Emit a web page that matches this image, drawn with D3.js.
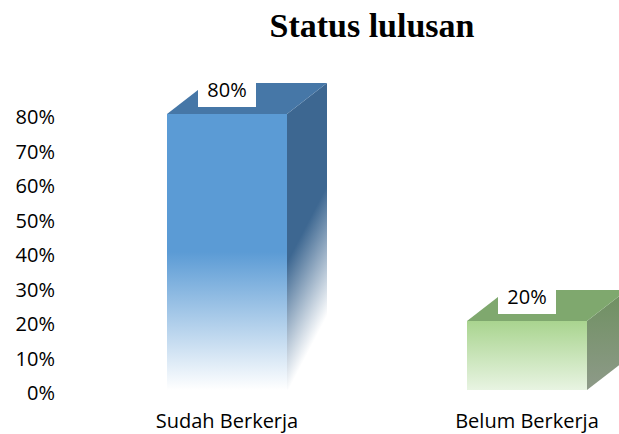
<!DOCTYPE html>
<html>
<head>
<meta charset="utf-8">
<script src="https://cdn.jsdelivr.net/npm/d3@7"></script>
<style>
  html, body { margin: 0; padding: 0; background: #fff; }
  svg { display: block; }
</style>
</head>
<body>
<svg id="chart" width="619" height="434"></svg>
<script>
const title = "Status lulusan";
const categories = ["Sudah Berkerja", "Belum Berkerja"];
const values = [0.80, 0.20];
const tickValues = [0, 0.1, 0.2, 0.3, 0.4, 0.5, 0.6, 0.7, 0.8];

const W = 619, H = 434;
const svg = d3.select("#chart");
const font = "'Open Sans', 'Noto Sans', sans-serif";

const x = d3.scaleBand().domain(categories).range([77, 677]).paddingInner(0.6).paddingOuter(0.3);
const y = d3.scaleLinear().domain([0, 0.8]).range([390, 114]);
const dx = 40, dy = 31;

const defs = svg.append("defs");
function vgrad(id, stops, x1, y1, x2, y2) {
  const g = defs.append("linearGradient").attr("id", id)
    .attr("x1", x1 || 0).attr("y1", y1 || 0).attr("x2", x2 || 0).attr("y2", y2 === undefined ? 1 : y2);
  stops.forEach(s => g.append("stop").attr("offset", s[0]).attr("stop-color", s[1]));
}
const styles = [
  { front: "f0", side: "s0", top: "#4677A7" },
  { front: "f1", side: "s1", top: "#7FA86E" }
];
vgrad("f0", [[0, "#5B9BD5"], [0.5, "#5B9BD5"], [1, "#FFFFFF"]]);
vgrad("s0", [[0, "#3D6791"], [0.55, "#3D6791"], [0.95, "#FFFFFF"]], 0, 0, 0.25, 1);
vgrad("f1", [[0, "#A9D48F"], [1, "#E8F4E2"]]);
vgrad("s1", [[0, "#6E9060"], [1, "#8E9A89"]]);

// title
svg.append("text").attr("x", 372).attr("y", 37)
  .attr("text-anchor", "middle")
  .style("font-family", "'Liberation Serif', 'Times New Roman', serif")
  .style("font-weight", "bold").style("font-size", "34px")
  .text(title);

// y tick labels
svg.append("g").selectAll("text").data(tickValues).join("text")
  .attr("x", 55).attr("y", d => y(d) + 3)
  .attr("dy", "0.35em")
  .attr("text-anchor", "end")
  .style("font-family", font).style("font-size", "20px").style("fill", "#000")
  .text(d => d3.format(".0%")(d));

// bars
const bars = svg.append("g").selectAll("g").data(categories).join("g");
bars.each(function(c, i) {
  const g = d3.select(this);
  const x0 = x(c), x1 = x(c) + x.bandwidth();
  const yt = y(values[i]), yb = y(0);
  // side
  g.append("path")
    .attr("d", `M${x1},${yt} L${x1 + dx},${yt - dy} L${x1 + dx},${yb - dy} L${x1},${yb} Z`)
    .attr("fill", `url(#${styles[i].side})`);
  // top
  g.append("path")
    .attr("d", `M${x0},${yt} L${x1},${yt} L${x1 + dx},${yt - dy} L${x0 + dx},${yt - dy} Z`)
    .attr("fill", styles[i].top);
  // front
  g.append("rect").attr("x", x0).attr("y", yt).attr("width", x.bandwidth()).attr("height", yb - yt)
    .attr("fill", `url(#${styles[i].front})`);
  // data label
  const cx = x0 + x.bandwidth() / 2;
  g.append("rect").attr("x", cx - 29).attr("y", yt - 35).attr("width", 58).attr("height", 28)
    .attr("fill", "#fff");
  g.append("text").attr("x", cx).attr("y", yt - 17)
    .attr("text-anchor", "middle")
    .style("font-family", font).style("font-size", "20px").style("fill", "#000")
    .text(d3.format(".0%")(values[i]));
});

// category labels
svg.append("g").selectAll("text").data(categories).join("text")
  .attr("x", d => x(d) + x.bandwidth() / 2).attr("y", 428)
  .attr("text-anchor", "middle")
  .style("font-family", font).style("font-size", "20px").style("fill", "#000")
  .text(d => d);
</script>
</body>
</html>
